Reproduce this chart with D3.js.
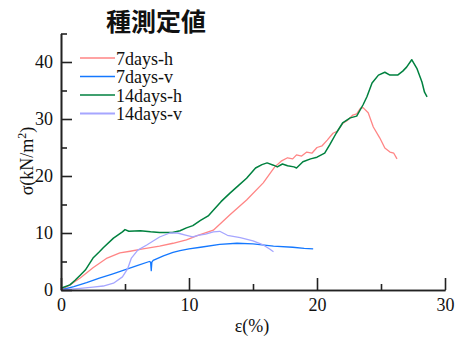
<!DOCTYPE html>
<html>
<head>
<meta charset="utf-8">
<script src="https://cdn.jsdelivr.net/npm/d3@7/dist/d3.min.js"></script>
<style>
  body { margin: 0; background: #fff; }
  svg { display: block; }
  .tick text { font-family: "Liberation Serif", serif; font-size: 18px; fill: #111; }
</style>
</head>
<body>
<svg id="chart" width="455" height="337"></svg>
<script>
// strain (%) , stress (kN/m2)
const days7h = [[0,0],[0.7,0.9],[1.5,2.1],[2.5,3.9],[3.6,5.6],[4.6,6.5],[5.4,6.8],[6.4,7.2],[7.7,7.7],[8.75,8.2],[9.8,8.8],[10.7,9.6],[11.9,10.5],[13.2,13.2],[14.5,15.8],[15.8,18.8],[16.7,21.6],[17.2,22.6],[17.7,23.2],[18.1,23.0],[18.4,23.7],[18.8,23.5],[19.2,24.2],[19.6,24.0],[20.0,25.0],[20.4,25.3],[20.8,26.3],[21.25,27.5],[21.6,27.9],[22.0,29.2],[22.4,29.8],[22.8,30.7],[23.1,30.9],[23.4,31.9],[23.6,32.0],[24.0,31.1],[24.4,28.6],[24.9,26.7],[25.3,24.9],[25.7,24.2],[26.0,24.0],[26.25,23.0]];
const days7v = [[0,0],[1,0.6],[2,1.3],[3,2.1],[4,2.8],[5.2,3.7],[6.0,4.3],[6.9,5.0],[7.0,4.9],[7.05,3.4],[7.1,4.9],[7.2,5.2],[8.0,6.0],[8.75,6.6],[9.3,6.9],[10.0,7.2],[10.9,7.5],[12.4,8.0],[13.75,8.2],[15.0,8.1],[16.6,7.7],[18.1,7.5],[19.0,7.3],[19.7,7.2]];
const days14h = [[0,0.3],[0.7,0.9],[1.1,1.7],[1.5,2.6],[1.9,3.5],[2.5,5.6],[3.0,6.7],[3.3,7.4],[4.1,9.1],[4.8,10.2],[5.0,10.6],[5.3,10.3],[6.2,10.4],[7.0,10.2],[7.7,10.1],[8.7,10.1],[9.3,10.4],[9.8,10.9],[10.3,11.3],[10.9,12.2],[11.5,13.0],[11.9,14.0],[12.5,15.5],[13.2,17.0],[13.9,18.4],[14.5,19.6],[15.2,21.4],[15.7,22.0],[16.1,22.3],[16.6,21.9],[16.9,21.6],[17.3,22.1],[17.7,21.8],[18.2,21.6],[18.4,21.4],[18.9,22.5],[19.5,23.0],[20.0,23.3],[20.6,24.0],[21.0,25.5],[21.5,27.5],[22.0,29.3],[22.6,30.2],[23.1,30.5],[23.6,32.5],[23.9,33.9],[24.3,36.3],[24.8,37.7],[25.3,38.2],[25.7,37.7],[26.3,37.7],[26.7,38.4],[27.0,39.1],[27.4,40.4],[27.8,38.9],[28.2,36.5],[28.4,34.7],[28.6,33.9]];
const days14v = [[0,0],[1.5,0.3],[2.5,0.5],[3.3,0.7],[4.1,1.2],[4.8,2.3],[5.2,3.7],[5.5,5.6],[6.0,7.0],[6.7,7.9],[7.7,9.3],[8.5,10.0],[9.1,10.0],[9.8,9.6],[10.3,9.3],[10.7,9.6],[11.3,9.8],[11.9,10.2],[12.4,10.3],[13.0,9.6],[14.0,9.2],[15.0,8.6],[15.8,7.9],[16.3,7.2],[16.6,6.7]];

const seriesNames = ['7days-h', '7days-v', '14days-h', '14days-v'];
const seriesData = [days7h, days7v, days14h, days14v];
const seriesColors = ['#ff8585', '#1478ff', '#00813f', '#a6a6ff'];

const xMajor = [0, 10, 20, 30];
const xMinor = [5, 15, 25];
const yMajor = [0, 10, 20, 30, 40];
const yMinor = [5, 15, 25, 35, 45];

const svg = d3.select('#chart');
const x = d3.scaleLinear().domain([0, 30]).range([61, 445]);
const y = d3.scaleLinear().domain([0, 45]).range([290, 33.5]);

const line = d3.line().x(d => x(d[0])).y(d => y(d[1]));

svg.append('g').selectAll('path')
  .data(seriesData)
  .enter().append('path')
  .attr('d', line)
  .attr('fill', 'none')
  .attr('stroke', (d, i) => seriesColors[i])
  .attr('stroke-width', (d, i) => i === 2 ? 1.5 : 1.3)
  .attr('stroke-linejoin', 'round');

// axes, ticks point inward
svg.append('g').attr('transform', 'translate(0,290)')
  .call(d3.axisBottom(x).tickValues(xMajor).tickSize(-12).tickSizeOuter(0).tickPadding(8));
svg.append('g').attr('transform', 'translate(0,290)')
  .call(d3.axisBottom(x).tickValues(xMinor).tickSize(-6).tickSizeOuter(0).tickFormat(''));
svg.append('g').attr('transform', 'translate(61,0)')
  .call(d3.axisLeft(y).tickValues(yMajor).tickSize(-11).tickSizeOuter(0).tickPadding(8));
svg.append('g').attr('transform', 'translate(61,0)')
  .call(d3.axisLeft(y).tickValues(yMinor).tickSize(-6).tickSizeOuter(0).tickFormat(''));

svg.selectAll('.domain').attr('stroke', '#222').attr('stroke-width', 1.6);
svg.selectAll('.tick line').attr('stroke', '#222').attr('stroke-width', 1.6);

// legend
const legend = svg.append('g');
seriesNames.forEach((name, i) => {
  const ly = 58 + i * 18.5;
  legend.append('line')
    .attr('x1', 80).attr('x2', 115).attr('y1', ly).attr('y2', ly)
    .attr('stroke', seriesColors[i]).attr('stroke-width', i === 3 ? 2 : 1.5);
  legend.append('text')
    .attr('x', 116).attr('y', ly + 6.5)
    .attr('font-family', '"Liberation Serif", serif').attr('font-size', 18)
    .attr('fill', '#111')
    .text(name);
});

// title and axis labels
svg.append('text')
  .attr('x', 156).attr('y', 31)
  .attr('text-anchor', 'middle')
  .attr('font-family', '"Noto Sans CJK JP", sans-serif')
  .attr('font-weight', 700).attr('font-size', 25)
  .attr('fill', '#111')
  .text('種測定値');

svg.append('text')
  .attr('x', 252).attr('y', 332)
  .attr('text-anchor', 'middle')
  .attr('font-family', '"Liberation Serif", serif').attr('font-size', 18)
  .attr('fill', '#111')
  .text('ε(%)');

const yl = svg.append('text')
  .attr('transform', 'translate(33,161) rotate(-90)')
  .attr('text-anchor', 'middle')
  .attr('font-family', '"Liberation Serif", serif').attr('font-size', 18)
  .attr('fill', '#111');
yl.append('tspan').text('σ(kN/m');
yl.append('tspan').attr('dy', -7).attr('font-size', 12).text('2');
yl.append('tspan').attr('dy', 7).text(')');
</script>
</body>
</html>
